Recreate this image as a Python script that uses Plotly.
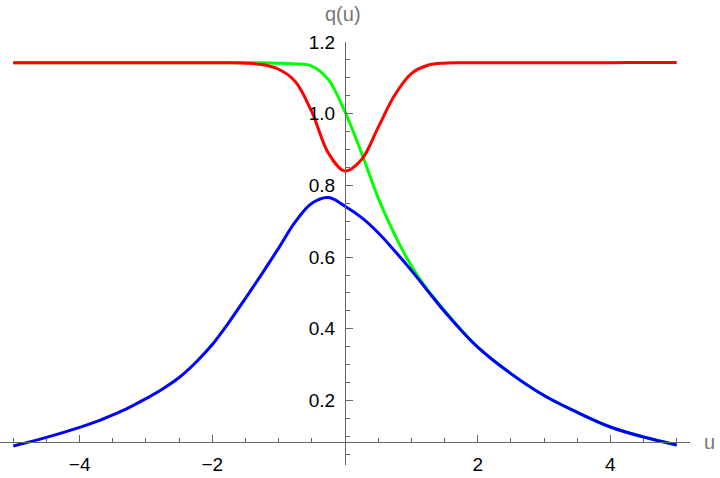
import plotly.graph_objects as go

# Blue curve
u_blue = [-5, -4.5, -4, -3.75, -3.5, -3.25, -3, -2.75, -2.5, -2.25, -2, -1.75, -1.5, -1.25, -1, -0.75, -0.5, -0.25, 0,
          0.25, 0.5, 0.75, 1, 1.25, 1.5, 1.75, 2, 2.5, 3, 3.5, 4, 4.5, 5]
q_blue = [0.073, 0.097, 0.125, 0.141, 0.160, 0.181, 0.205, 0.232, 0.264, 0.306, 0.356, 0.418, 0.485, 0.554, 0.625, 0.698, 0.750, 0.766, 0.742,
          0.710, 0.668, 0.617, 0.563, 0.505, 0.448, 0.396, 0.349, 0.275, 0.214, 0.167, 0.126, 0.098, 0.076]

# Green curve
u_green = [-5, -4.5, -4, -3.5, -3, -2.5, -2, -1.75, -1.5, -1.25, -1, -0.75, -0.5, -0.25, 0, 0.25, 0.5, 0.75, 1, 1.25, 1.5, 1.75,
           2, 2.5, 3, 3.5, 4, 4.5, 5]
q_green = [1.142, 1.142, 1.142, 1.142, 1.142, 1.142, 1.142, 1.142, 1.142, 1.142, 1.141, 1.139, 1.133, 1.095, 1.005, 0.890, 0.765, 0.662, 0.576, 0.508, 0.451, 0.397,
           0.349, 0.275, 0.214, 0.167, 0.126, 0.098, 0.076]

# Red curve
u_red = [-5, -4.5, -4, -3.5, -3, -2.5, -2, -1.75, -1.5, -1.25, -1, -0.75, -0.5, -0.25, 0, 0.25, 0.5, 0.75, 1, 1.25, 1.5,
         1.75, 2, 2.5, 3, 3.5, 4, 4.5, 5]
q_red = [1.142, 1.142, 1.142, 1.142, 1.142, 1.142, 1.142, 1.142, 1.141, 1.137, 1.124, 1.090, 1.005, 0.890, 0.840, 0.872, 0.962, 1.052, 1.112, 1.135, 1.141,
         1.142, 1.142, 1.142, 1.142, 1.142, 1.142, 1.143, 1.143]

x_ticks = [-4, -2, 2, 4]
x_tick_text = ["\u22124", "\u22122", "2", "4"]
y_ticks = [0.2, 0.4, 0.6, 0.8, 1.0, 1.2]
y_tick_text = ["0.2", "0.4", "0.6", "0.8", "1.0", "1.2"]

XR = [-5.2, 5.2]
YR = [0.02, 1.2]
X_CROSS = 0.083  # value of q where the u axis crosses

fig = go.Figure()
fig.add_trace(go.Scatter(x=u_green, y=q_green, mode="lines",
                         line=dict(color="#00FF00", width=3, shape="spline", smoothing=1.0)))
fig.add_trace(go.Scatter(x=u_blue, y=q_blue, mode="lines",
                         line=dict(color="#0000FF", width=3, shape="spline", smoothing=1.0)))
fig.add_trace(go.Scatter(x=u_red, y=q_red, mode="lines",
                         line=dict(color="#FF0000", width=3, shape="spline", smoothing=1.0)))

axis_col = "#666666"
fig.update_layout(
    width=720, height=478,
    margin=dict(l=0, r=30, t=42, b=13),
    paper_bgcolor="white", plot_bgcolor="white",
    showlegend=False,
    font=dict(family="Liberation Sans, Arial, sans-serif", size=19, color="black"),
    xaxis=dict(range=XR, anchor="free", position=(X_CROSS - YR[0]) / (YR[1] - YR[0]),
               automargin=False,
               showgrid=False, zeroline=False, showline=True, linecolor=axis_col, linewidth=1,
               tickvals=x_ticks, ticktext=x_tick_text,
               ticks="inside", ticklen=7, tickcolor=axis_col, tickwidth=1,
               minor=dict(dtick=0.5, tick0=0, ticks="inside", ticklen=4, tickcolor=axis_col, showgrid=False),
               ticklabelstandoff=5,
               tickfont=dict(size=19, color="black")),
    yaxis=dict(range=YR, anchor="free", position=(0 - XR[0]) / (XR[1] - XR[0]),
               automargin=False,
               showgrid=False, zeroline=False, showline=True, linecolor=axis_col, linewidth=1,
               tickvals=y_ticks, ticktext=y_tick_text,
               ticks="inside", ticklen=7, tickcolor=axis_col, tickwidth=1,
               minor=dict(dtick=0.05, tick0=0, ticks="inside", ticklen=4, tickcolor=axis_col, showgrid=False),
               ticklabelstandoff=6,
               tickfont=dict(size=19, color="black")),
    annotations=[
        dict(text="u", xref="paper", yref="paper", x=1.0 + 20 / 690, y=(X_CROSS - YR[0]) / (YR[1] - YR[0]),
             showarrow=False, font=dict(size=20, color="#777777"), xanchor="center", yanchor="middle"),
        dict(text="q(u)", xref="paper", yref="paper", x=0.497, y=1.0 + 28 / 423,
             showarrow=False, font=dict(size=20, color="#777777"), xanchor="center", yanchor="middle"),
    ],
)

fig.write_html("out.html", config={"displayModeBar": False},
               post_script="document.body.style.margin='0';document.body.style.padding='0';")
